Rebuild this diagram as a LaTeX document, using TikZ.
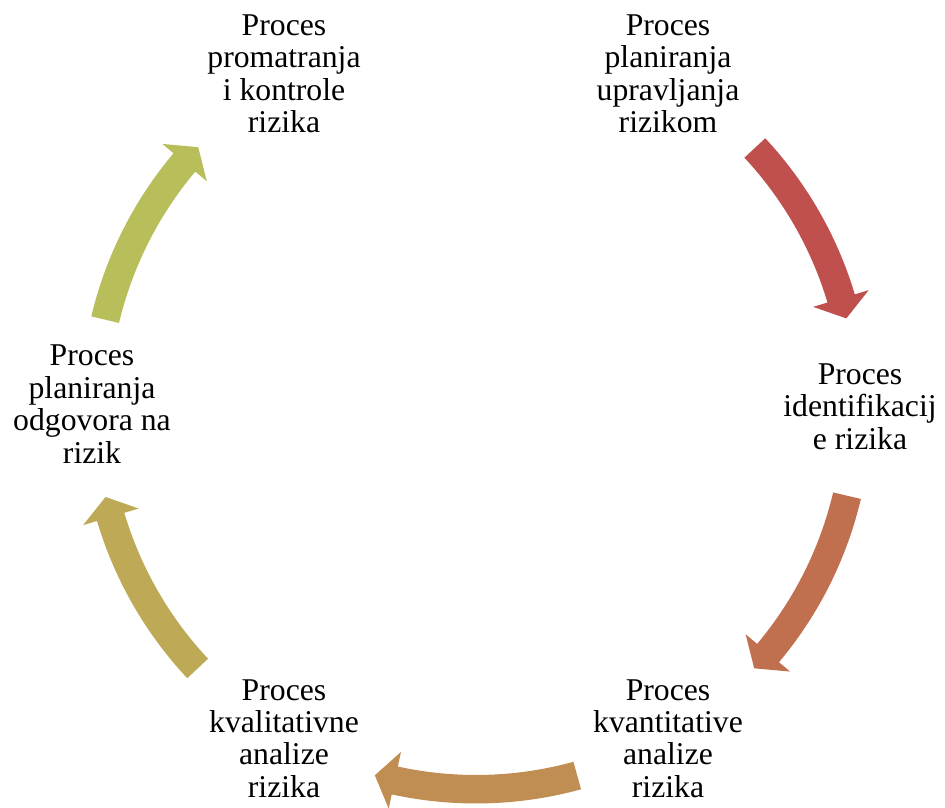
\documentclass[tikz,border=0pt]{standalone}
\usepackage{fontspec}
\setmainfont[Ligatures=NoCommon]{Liberation Serif}
\definecolor{cA}{HTML}{C0504D}
\definecolor{cB}{HTML}{C0704E}
\definecolor{cC}{HTML}{C08E52}
\definecolor{cD}{HTML}{BEAA56}
\definecolor{cE}{HTML}{B7BE5A}
\newcommand\cycarrow[5]{% name, tail, base, tip, colour
  \fill[#5] (#2:395.5) arc[start angle=#2,end angle=#3,radius=395.5]
    -- (#3:410) -- (#4:381) -- (#3:352) -- (#3:367)
    arc[start angle=#3,end angle=#2,radius=367] -- cycle;}
\begin{document}
\begin{tikzpicture}[x=1pt,y=1pt,
  lbl/.style={align=center,inner sep=0pt,anchor=center,
    font=\fontsize{31.7}{32.4}\selectfont}]
\useasboundingbox (0,0) rectangle (945,807);
\node[lbl] (n1) at (668,733.1) {Proces\\planiranja\\upravljanja\\rizikom};
\node[lbl] (n2) at (860,400.3) {Proces\\identifikacij\\e rizika};
\node[lbl] (n3) at (668,68.6) {Proces\\kvantitative\\analize\\rizika};
\node[lbl] (n4) at (284,68.6) {Proces\\kvalitativne\\analize\\rizika};
\node[lbl] (n5) at (92,402.8) {Proces\\planiranja\\odgovora na\\rizik};
\node[lbl] (n6) at (284,733.1) {Proces\\promatranja\\i kontrole\\rizika};
\begin{scope}[shift={(476,399)}]
\cycarrow{a1}{43}{16.7}{13.6}{cA}
\cycarrow{a2}{-13.3}{-40.0}{-43.1}{cB}
\cycarrow{a3}{-74.6}{-102.3}{-105.4}{cC}
\cycarrow{a4}{223.1}{196.6}{193.5}{cD}
\cycarrow{a5}{166.6}{139.9}{136.8}{cE}
\end{scope}
\end{tikzpicture}
\end{document}
